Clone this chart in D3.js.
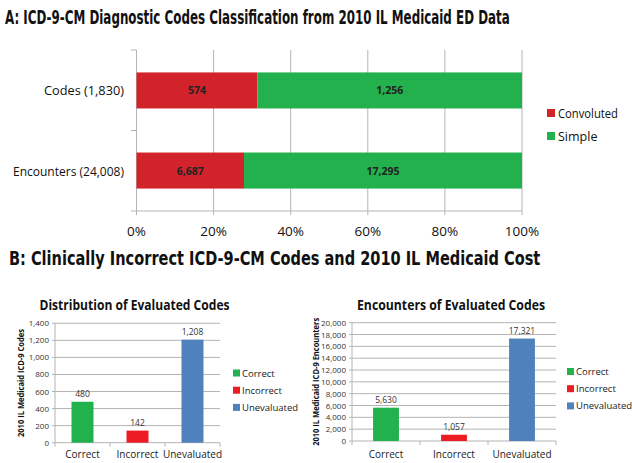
<!DOCTYPE html>
<html><head><meta charset="utf-8">
<script src="https://cdn.jsdelivr.net/npm/d3@7"></script>
<style>body{margin:0;background:#fff}svg{display:block}text{font-family:"Open Sans",Lato,sans-serif}
.cond{font-family:"Liberation Sans Narrow","DejaVu Sans Condensed","Open Sans",sans-serif;font-stretch:condensed}</style>
</head><body>
<svg id="c" width="633" height="463"></svg>
<script>
// ---- Data ----
const topCategories = ["Codes (1,830)", "Encounters (24,008)"];
const topSeries = ["Convoluted", "Simple"];
const convolutedValues = [574, 6687];
const simpleValues = [1256, 17295];
const convolutedLabels = ["574", "6,687"];
const simpleLabels = ["1,256", "17,295"];
const pctTicks = [0, 0.2, 0.4, 0.6, 0.8, 1.0];

const evalCategories = ["Correct", "Incorrect", "Unevaluated"];
const codesValues = [480, 142, 1208];
const codesTicks = [0, 200, 400, 600, 800, 1000, 1200, 1400];
const encounterValues = [5630, 1057, 17321];
const encounterTicks = [0, 2000, 4000, 6000, 8000, 10000, 12000, 14000, 16000, 18000, 20000];

const topColors = ["#d2232a", "#22b14c"];
const evalColors = ["#22b14c", "#ed1c24", "#4f81bd"];

const svg = d3.select("#c");
const grid = "#b4b4b4";
const fmt = d3.format(",");

// horizontally squeezed title: scale group so the text spans exactly `w` px starting at x
function squeezedTitle(x, y, size, w, str) {
  const g = svg.append("g");
  const t = g.append("text").attr("class", "cond").attr("x", 0).attr("y", 0).attr("font-size", size)
    .attr("font-weight", 700).attr("fill", "#111").text(str);
  const nat = t.node().getComputedTextLength();
  g.attr("transform", `translate(${x},${y}) scale(${w / nat},1)`);
}
squeezedTitle(5, 24, 19, 505, "A: ICD-9-CM Diagnostic Codes Classification from 2010 IL Medicaid ED Data");
squeezedTitle(9, 265, 19, 532, "B: Clinically Incorrect ICD-9-CM Codes and 2010 IL Medicaid Cost");

// ---- Chart A ----
(function(){
  const x = d3.scaleLinear().domain([0, 1]).range([136.5, 522]);
  const y = d3.scaleBand().domain(topCategories).range([50, 211]).paddingInner(0.55).paddingOuter(0.28);
  const g = svg.append("g");
  g.selectAll("line.grid").data(pctTicks).join("line")
    .attr("x1", d => x(d)).attr("x2", d => x(d)).attr("y1", 50).attr("y2", 215)
    .attr("stroke", grid).attr("stroke-width", 1);
  [50, 130.5, 211].forEach(v => g.append("line").attr("x1", 131).attr("x2", 136.5).attr("y1", v).attr("y2", v).attr("stroke", grid));
  g.append("line").attr("x1", 136.5).attr("x2", 522).attr("y1", 211).attr("y2", 211).attr("stroke", grid);
  const totals = convolutedValues.map((v, i) => v + simpleValues[i]);
  const stack = topCategories.map((c, i) => ({c, segs: [
    {k: 0, x0: 0, x1: convolutedValues[i] / totals[i], lab: convolutedLabels[i]},
    {k: 1, x0: convolutedValues[i] / totals[i], x1: 1, lab: simpleLabels[i]}]}));
  stack.forEach(s => {
    s.segs.forEach(seg => {
      g.append("rect").attr("x", x(seg.x0)).attr("y", y(s.c)).attr("width", x(seg.x1) - x(seg.x0))
        .attr("height", y.bandwidth()).attr("fill", topColors[seg.k]);
      g.append("text").attr("x", (x(seg.x0) + x(seg.x1)) / 2).attr("y", y(s.c) + y.bandwidth() / 2 + 4)
        .attr("text-anchor", "middle").attr("font-size", 10.5).attr("font-weight", 700).attr("fill", "#222")
        .text(seg.lab);
    });
    g.append("text").attr("x", 124).attr("y", y(s.c) + y.bandwidth() / 2 + 5).attr("text-anchor", "end")
      .attr("font-size", 13).attr("fill", "#111").attr("textLength", s.c.length > 14 ? 111 : 80)
      .attr("lengthAdjust", "spacingAndGlyphs").text(s.c);
  });
  g.selectAll("text.tick").data(pctTicks).join("text")
    .attr("x", d => x(d)).attr("y", 236).attr("text-anchor", "middle").attr("font-size", 13.5).attr("fill", "#111")
    .text(d => d3.format(".0%")(d));
  topSeries.forEach((s, i) => {
    g.append("rect").attr("x", 547).attr("y", 109 + i * 23).attr("width", 8).attr("height", 8).attr("fill", topColors[i]);
    const t = g.append("text").attr("x", 558).attr("y", 117.5 + i * 23).attr("font-size", 12.5).attr("fill", "#111").text(s);
    if (i === 0) t.attr("textLength", 60).attr("lengthAdjust", "spacingAndGlyphs");
  });
})();

// ---- Chart B helper ----
function barChart(o) {
  const g = svg.append("g");
  const x = d3.scaleBand().domain(evalCategories).range([o.left, o.right]).paddingInner(o.pad).paddingOuter(o.pad / 2);
  const y = d3.scaleLinear().domain([0, o.max]).range([o.bottom, o.top]);
  g.append("text").attr("x", (o.left + o.right) / 2 - 3).attr("y", 309.5).attr("text-anchor", "middle")
    .attr("font-size", 13.5).attr("font-weight", 700).attr("fill", "#111")
    .attr("textLength", o.titleW).attr("lengthAdjust", "spacingAndGlyphs").text(o.title);
  g.selectAll("line.grid").data(o.ticks.slice(1)).join("line")
    .attr("x1", o.left).attr("x2", o.right).attr("y1", d => y(d)).attr("y2", d => y(d)).attr("stroke", grid);
  g.append("line").attr("x1", o.left).attr("x2", o.left).attr("y1", o.top).attr("y2", o.bottom).attr("stroke", grid);
  g.selectAll("line.yt").data(o.ticks).join("line")
    .attr("x1", o.left - 3).attr("x2", o.left).attr("y1", d => y(d)).attr("y2", d => y(d)).attr("stroke", grid);
  g.selectAll("text.yl").data(o.ticks).join("text")
    .attr("x", o.left - 6).attr("y", d => y(d) + 3).attr("text-anchor", "end").attr("font-size", 8).attr("fill", "#333")
    .text(d => fmt(d));
  g.append("line").attr("x1", o.left).attr("x2", o.right).attr("y1", o.bottom).attr("y2", o.bottom).attr("stroke", grid);
  const step = x.step();
  [0, 1, 2, 3].forEach(i => g.append("line").attr("x1", o.left + i * step).attr("x2", o.left + i * step)
    .attr("y1", o.bottom).attr("y2", o.bottom + 4).attr("stroke", grid));
  evalCategories.forEach((c, i) => {
    g.append("rect").attr("x", x(c)).attr("y", y(o.values[i])).attr("width", x.bandwidth())
      .attr("height", o.bottom - y(o.values[i])).attr("fill", evalColors[i]);
    g.append("text").attr("x", x(c) + x.bandwidth() / 2).attr("y", y(o.values[i]) - 5).attr("text-anchor", "middle")
      .attr("font-size", 8.5).attr("fill", "#333").text(fmt(o.values[i]));
    g.append("text").attr("x", x(c) + x.bandwidth() / 2).attr("y", 458).attr("text-anchor", "middle")
      .attr("font-size", 10).attr("fill", "#222").text(c);
  });
  g.append("text").attr("transform", `translate(${o.ytx},${(o.top + o.bottom) / 2}) rotate(-90)`)
    .attr("text-anchor", "middle").attr("font-size", 8.5).attr("font-weight", 700).attr("fill", "#111")
    .attr("textLength", o.ytW).attr("lengthAdjust", "spacingAndGlyphs").text(o.ytitle);
  evalCategories.forEach((c, i) => {
    g.append("rect").attr("x", o.legX).attr("y", o.legY + i * 17.2 - 3.5).attr("width", 7).attr("height", 7).attr("fill", evalColors[i]);
    g.append("text").attr("x", o.legX + 9).attr("y", o.legY + i * 17.2 + 3.5).attr("font-size", 9.5).attr("fill", "#222").text(c);
  });
}

barChart({left: 55, right: 220, top: 323.3, bottom: 442.7, max: 1400, ticks: codesTicks, values: codesValues, pad: 0.6,
  title: "Distribution of Evaluated Codes", titleW: 190, ytitle: "2010 IL Medicaid ICD-9 Codes", ytx: 24, ytW: 108,
  legX: 233, legY: 373});
barChart({left: 352, right: 556, top: 322.7, bottom: 441, max: 20000, ticks: encounterTicks, values: encounterValues, pad: 0.62,
  title: "Encounters of Evaluated Codes", titleW: 188, ytitle: "2010 IL Medicaid ICD-9 Encounters", ytx: 319, ytW: 128,
  legX: 567, legY: 371.5});
</script>
</body></html>
